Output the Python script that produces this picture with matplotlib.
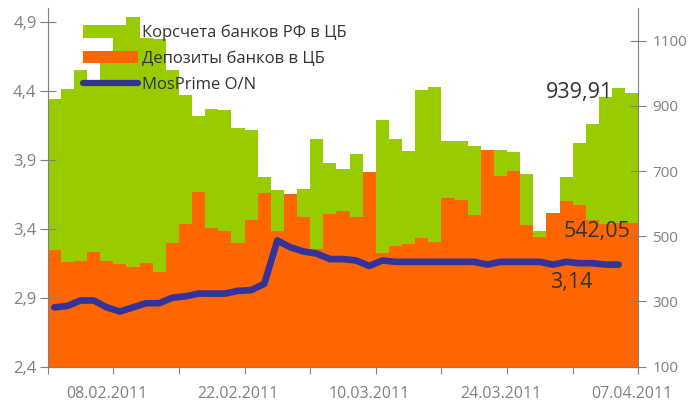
import numpy as np
import matplotlib
matplotlib.use('Agg')
import matplotlib.pyplot as plt
from matplotlib.patches import Patch
from matplotlib.lines import Line2D

plt.rcParams['font.family'] = ['Open Sans', 'DejaVu Sans']

# Data
dates = ['02.02.2011', '03.02.2011', '04.02.2011', '07.02.2011', '08.02.2011',
         '09.02.2011', '10.02.2011', '11.02.2011', '14.02.2011', '15.02.2011',
         '16.02.2011', '17.02.2011', '18.02.2011', '21.02.2011', '22.02.2011',
         '24.02.2011', '25.02.2011', '28.02.2011', '01.03.2011', '02.03.2011',
         '03.03.2011', '04.03.2011', '05.03.2011', '09.03.2011', '10.03.2011',
         '11.03.2011', '14.03.2011', '15.03.2011', '16.03.2011', '17.03.2011',
         '18.03.2011', '21.03.2011', '22.03.2011', '23.03.2011', '24.03.2011',
         '25.03.2011', '28.03.2011', '29.03.2011', '30.03.2011', '31.03.2011',
         '01.04.2011', '04.04.2011', '05.04.2011', '06.04.2011', '07.04.2011']

korscheta = [921, 951, 1010, 973, 1033, 1107, 1173, 1107, 1105, 1010,
             933, 869, 890, 887, 833, 826, 682, 642, 620, 645,
             798, 725, 706, 752, 690, 857, 798, 761, 948, 958,
             792, 792, 777, 755, 764, 758, 691, 517, 560, 682,
             786, 844, 927, 955, 939.91]

deposits = [458, 421, 424, 452, 424, 415, 407, 418, 391, 479,
            538, 636, 525, 517, 479, 550, 633, 517, 630, 559,
            460, 569, 577, 559, 697, 449, 470, 476, 495, 482,
            617, 611, 565, 764, 686, 700, 535, 499, 572, 608,
            596, 550, 537, 540, 542.05]

mosprime = [2.83, 2.84, 2.88, 2.88, 2.83, 2.80, 2.83, 2.86, 2.86, 2.90,
            2.91, 2.93, 2.93, 2.93, 2.95, 2.955, 3.00, 3.315, 3.265, 3.235,
            3.22, 3.18, 3.18, 3.17, 3.13, 3.17, 3.16, 3.16, 3.16, 3.16,
            3.16, 3.16, 3.16, 3.14, 3.16, 3.16, 3.16, 3.16, 3.14, 3.16,
            3.15, 3.15, 3.14, 3.14, np.nan]

label_idx = [4, 14, 24, 34, 44]

green = '#99CC00'
orange = '#FF6600'
blue = '#333399'
grey = '#808080'
dark = '#333333'

x = np.arange(len(dates))

fig = plt.figure(figsize=(6.89, 4.03), dpi=100)
ax = fig.add_axes([0.0692, 0.0901, 0.8572, 0.8900])
ax2 = ax.twinx()
ax.set_zorder(ax2.get_zorder() + 1)
ax.patch.set_visible(False)

# bars on the right axis
ax2.bar(x, korscheta, width=1.0, color=green, linewidth=0)
ax2.bar(x, deposits, width=1.0, color=orange, linewidth=0)
ax2.set_ylim(100, 1200)
ax2.set_yticks([100, 300, 500, 700, 900, 1100])

# MosPrime line on the left axis
ax.plot(x, mosprime, color=blue, lw=4.8, solid_capstyle='round', solid_joinstyle='round')
ax.set_ylim(2.4, 5.0)
ax.set_yticks([2.4, 2.9, 3.4, 3.9, 4.4, 4.9])
ax.set_yticklabels(['2,4', '2,9', '3,4', '3,9', '4,4', '4,9'])
ax.set_xlim(-0.5, len(dates) - 0.5)

# x ticks between categories, labels on every tenth date
ax.set_xticks(np.arange(-0.5, len(dates), 5))
ax.set_xticklabels([])
ax.set_xticks(label_idx, minor=True)
ax.set_xticklabels([dates[i] for i in label_idx], minor=True)
ax.tick_params(axis='x', which='major', direction='out', length=5, color=grey)
ax.tick_params(axis='x', which='minor', length=0, pad=14, labelsize=11.5, labelcolor=grey)

ax.tick_params(axis='y', direction='inout', length=12, color=grey, labelsize=12,
               labelcolor=grey, pad=2)
ax2.tick_params(axis='y', direction='inout', length=12, color=grey, labelsize=11,
                labelcolor=grey, pad=4)

for a in (ax, ax2):
    a.spines['top'].set_visible(False)
    for s in ('left', 'right', 'bottom'):
        a.spines[s].set_color(grey)
ax.spines['right'].set_visible(False)
ax2.spines['left'].set_visible(False)

# value labels
ax2.text(42.6, 939.91, '939,91', ha='right', va='center', fontsize=15.5, color=dark)
ax2.text(43.9, 514, '542,05', ha='right', va='center', fontsize=15.5, color=dark)
ax.text(39.4, 3.012, '3,14', ha='center', va='center', fontsize=15.5, color=dark)

handles = [Patch(facecolor=green, edgecolor='none'),
           Patch(facecolor=orange, edgecolor='none'),
           Line2D([0], [0], color=blue, lw=4.5, solid_capstyle='round')]
labels = ['Корсчета банков РФ в ЦБ', 'Депозиты банков в ЦБ', 'MosPrime O/N']
ax.legend(handles, labels, loc='upper left', bbox_to_anchor=(0.06, 0.953), frameon=False,
          fontsize=12, handlelength=3.3, handleheight=0.75, handletextpad=0.25,
          labelspacing=0.58, borderpad=0, borderaxespad=0, labelcolor=dark)

fig.savefig('out.png', dpi=100)
